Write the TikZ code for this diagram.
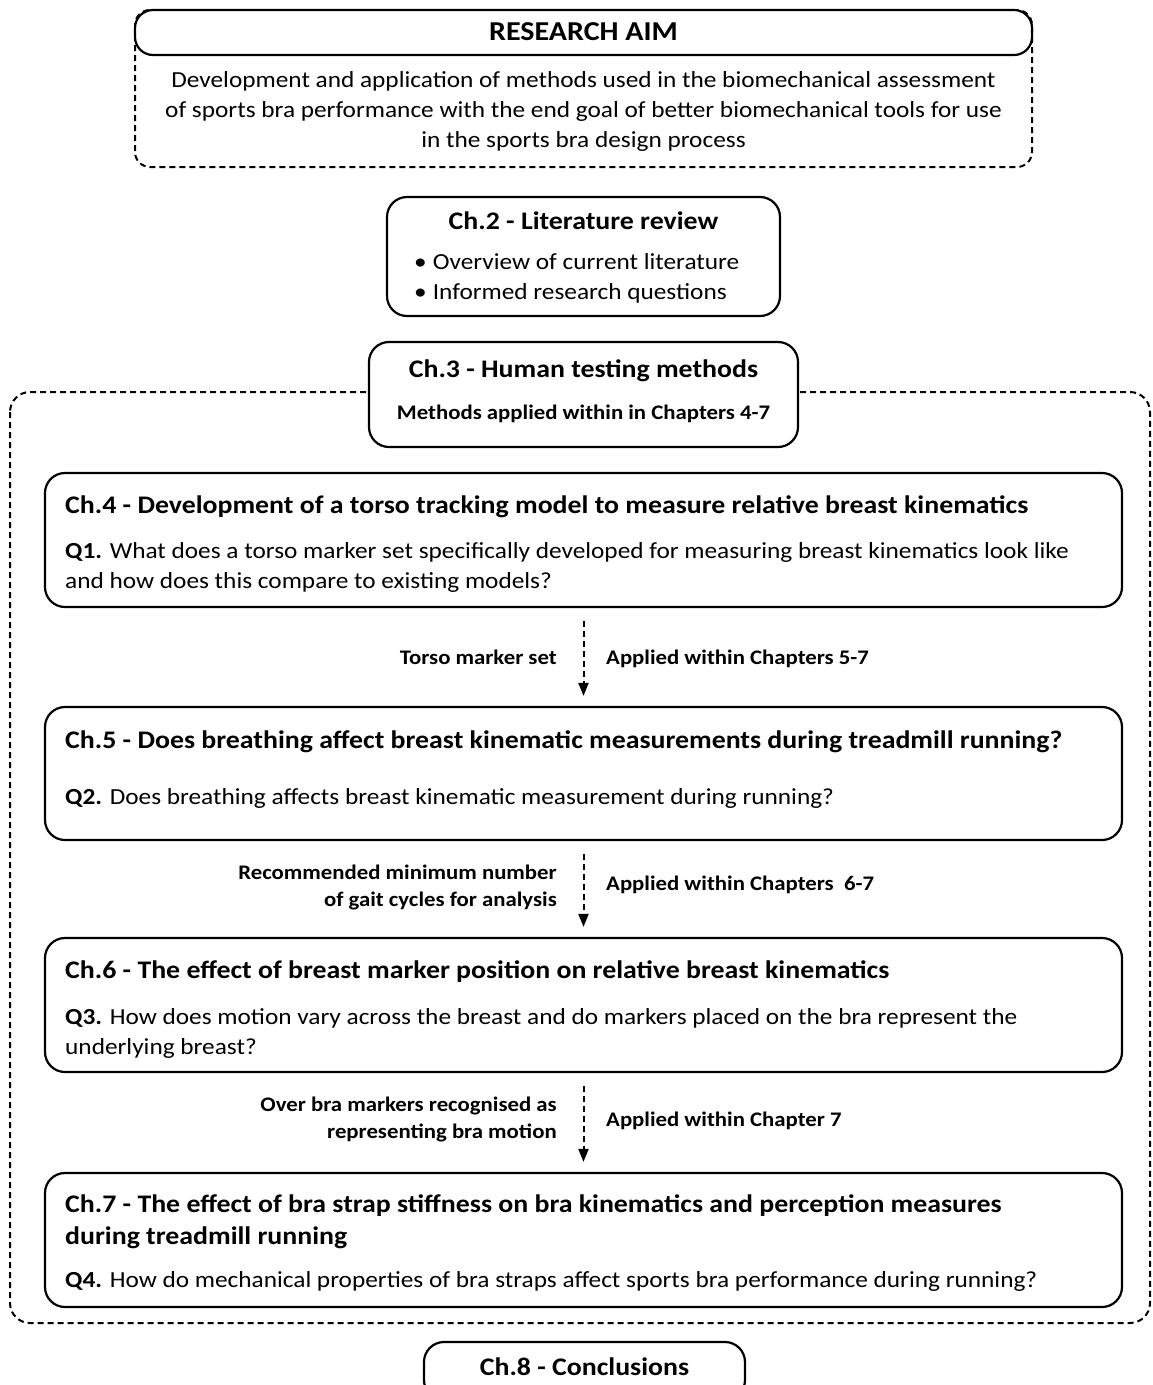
\documentclass[tikz,border=0pt]{standalone}
\usepackage{fontspec}
\setmainfont{Carlito}[FakeStretch=1.1]
\usetikzlibrary{arrows.meta}
\tikzset{
 box/.style={draw, line width=2.2pt, rounded corners=20pt, fill=white, inner sep=0pt},
 dbox/.style={draw, line width=2pt, dash pattern=on 6pt off 4pt, rounded corners=20pt},
 body/.style={font=\fontsize{23}{30}\selectfont, inner sep=0pt},
 ttl/.style={font=\fontsize{25.3}{32}\selectfont\bfseries, inner sep=0pt},
 aimttl/.style={font=\fontsize{27.3}{32}\selectfont\bfseries, inner sep=0pt},
 lbl/.style={font=\fontsize{20.7}{27}\selectfont\bfseries, inner sep=0pt},
 conn/.style={draw, line width=2pt, dash pattern=on 6pt off 4pt, -{Triangle[width=10pt,length=13pt]}, shorten <=13pt, shorten >=10pt},
}
\begin{document}
\begin{tikzpicture}[x=1pt,y=-1pt]
\clip (0,0) rectangle (1153,1385);
\fill[white] (0,0) rectangle (1153,1385);
% research aim
\draw[dbox, rounded corners=15pt] (135,10) rectangle (1032,167);
\node[box, rounded corners=18pt, minimum width=897pt, minimum height=45pt] (aim) at (583.5,32.5) {};
\node[aimttl, anchor=mid] (aimt) at (583.5,38) {RESEARCH AIM};
\node[body, anchor=mid] (aim1) at (583.5,85) {Development and application of methods used in the biomechanical assessment};
\node[body, anchor=mid] (aim2) at (583.5,115) {of sports bra performance with the end goal of better biomechanical tools for use};
\node[body, anchor=mid] (aim3) at (583.5,145) {in the sports bra design process};
% ch2
\node[box, minimum width=393pt, minimum height=119pt] (c2) at (583.5,256.5) {};
\node[ttl, anchor=mid] (c2t) at (583.5,227) {Ch.2 - Literature review};
\node[body, anchor=mid west] (c2a) at (414,267) {•\hspace{6pt}Overview of current literature};
\node[body, anchor=mid west] (c2b) at (414,297) {•\hspace{6pt}Informed research questions};
% container
\draw[dbox] (10,392) rectangle (1150,1323);
% ch3
\node[box, minimum width=429pt, minimum height=105pt] (c3) at (583.5,394.5) {};
\node[ttl, anchor=mid] (c3t) at (583.5,375) {Ch.3 - Human testing methods};
\node[lbl, anchor=mid] (c3s) at (583.5,417) {Methods applied within in Chapters 4-7};
% ch4
\node[box, minimum width=1077pt, minimum height=134pt] (c4) at (583.5,540) {};
\node[ttl, anchor=mid west] (c4t) at (65,511) {Ch.4 - Development of a torso tracking model to measure relative breast kinematics};
\node[body, anchor=mid west] (c4a) at (65,556) {\textbf{Q1.} What does a torso marker set specifically developed for measuring breast kinematics look like};
\node[body, anchor=mid west] (c4b) at (65,586) {and how does this compare to existing models?};
% ch5
\node[box, minimum width=1077pt, minimum height=133pt] (c5) at (583.5,773.5) {};
\node[ttl, anchor=mid west] (c5t) at (65,746) {Ch.5 - Does breathing affect breast kinematic measurements during treadmill running?};
\node[body, anchor=mid west] (c5a) at (65,802) {\textbf{Q2.} Does breathing affects breast kinematic measurement during running?};
% ch6
\node[box, minimum width=1077pt, minimum height=134pt] (c6) at (583.5,1005) {};
\node[ttl, anchor=mid west] (c6t) at (65,976) {Ch.6 - The effect of breast marker position on relative breast kinematics};
\node[body, anchor=mid west] (c6a) at (65,1022) {\textbf{Q3.} How does motion vary across the breast and do markers placed on the bra represent the};
\node[body, anchor=mid west] (c6b) at (65,1052) {underlying breast?};
% ch7
\node[box, minimum width=1077pt, minimum height=134pt] (c7) at (583.5,1240) {};
\node[ttl, anchor=mid west] (c7t) at (65,1210) {Ch.7 - The effect of bra strap stiffness on bra kinematics and perception measures};
\node[ttl, anchor=mid west] (c7u) at (65,1242) {during treadmill running};
\node[body, anchor=mid west] (c7a) at (65,1285) {\textbf{Q4.} How do mechanical properties of bra straps affect sports bra performance during running?};
% ch8
\node[box, minimum width=321pt, minimum height=58pt] (c8) at (584.5,1371) {};
\node[ttl, anchor=mid] (c8t) at (584.5,1373) {Ch.8 - Conclusions};
% connectors
\draw[conn] (c4) -- (c5);
\draw[conn] (c5) -- (c6);
\draw[conn] (c6) -- (c7);
\node[lbl, anchor=mid east] (l1a) at (557,662) {Torso marker set};
\node[lbl, anchor=mid west] (l1b) at (606,662) {Applied within Chapters 5-7};
\node[lbl, anchor=mid east] (l2a) at (557,877) {Recommended minimum number};
\node[lbl, anchor=mid east] (l2b) at (557,904) {of gait cycles for analysis};
\node[lbl, anchor=mid west] (l2c) at (606,888) {Applied within Chapters\ \ 6-7};
\node[lbl, anchor=mid east] (l3a) at (557,1109) {Over bra markers recognised as};
\node[lbl, anchor=mid east] (l3b) at (557,1136) {representing bra motion};
\node[lbl, anchor=mid west] (l3c) at (606,1124) {Applied within Chapter 7};
\end{tikzpicture}
\end{document}
